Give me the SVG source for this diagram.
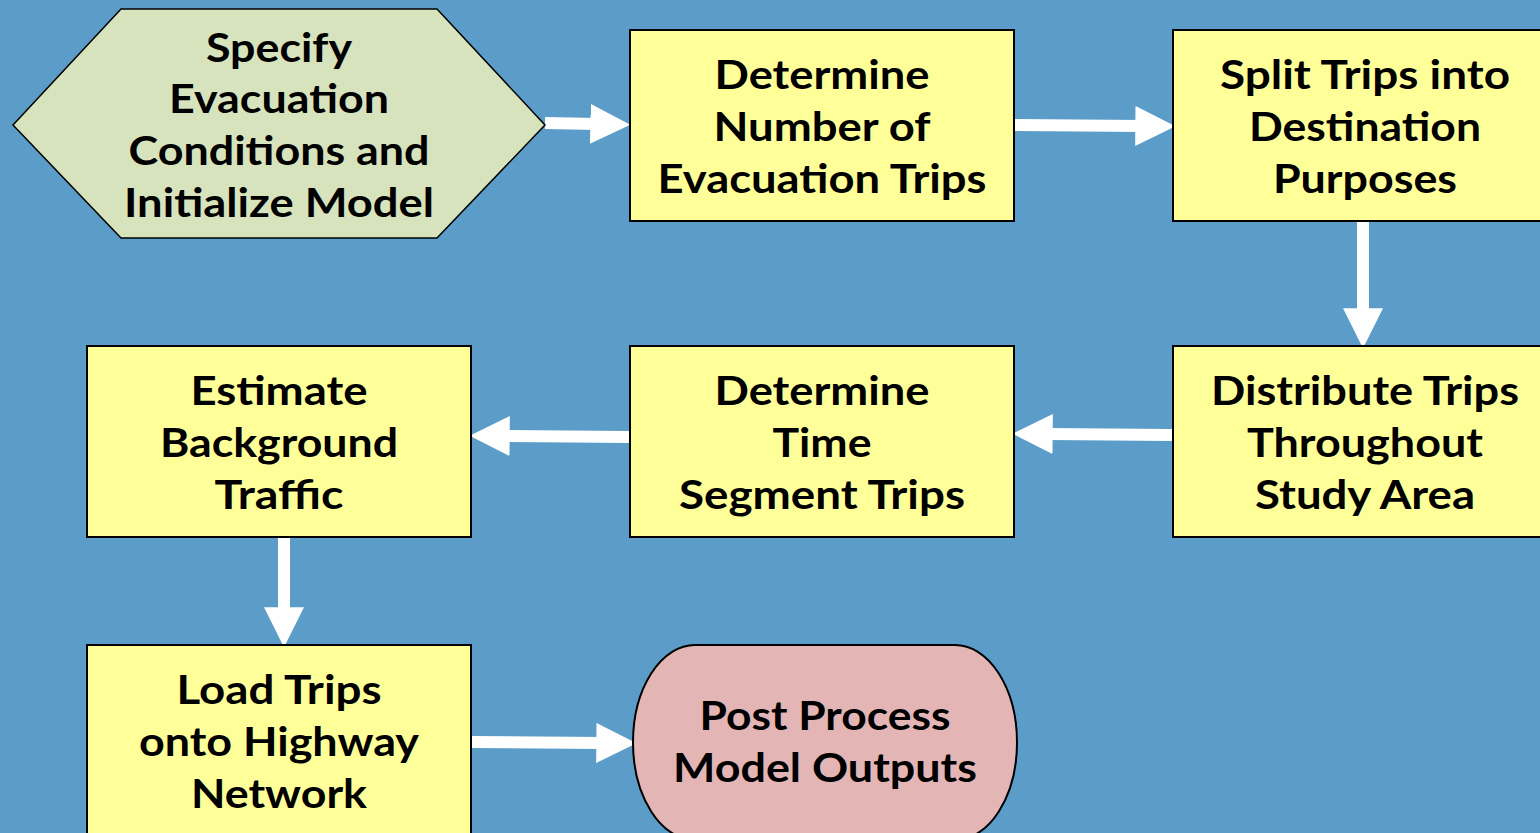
<svg xmlns="http://www.w3.org/2000/svg" width="1540" height="833" viewBox="0 0 1540 833">
<defs>
<style>
.bg{fill:#5B9DC8}
.box{fill:#FFFF99;stroke:#000;stroke-width:2}
.hex{fill:#D7E3BC;stroke:#000;stroke-width:1.5}
.term{fill:#E4B5B5;stroke:#000;stroke-width:2}
.t{font-family:Lato,"Open Sans","Liberation Sans",sans-serif;font-weight:bold;font-size:40px;fill:#000;text-anchor:middle}
.c{stroke:#fff;stroke-width:12;fill:none;marker-end:url(#ah)}
</style>
<marker id="ah" markerUnits="userSpaceOnUse" markerWidth="40" markerHeight="40" viewBox="0 0 36 36" refX="6" refY="18" orient="auto">
<path d="M0,0 L36,18 L0,36 Z" fill="#fff"/>
</marker>
</defs>
<rect class="bg" x="0" y="0" width="1540" height="833"/>
<g id="connectors">
<line class="c" x1="545" y1="123" x2="597" y2="124"/>
<line class="c" x1="1015" y1="125" x2="1142" y2="126"/>
<line class="c" x1="1363" y1="222" x2="1363" y2="315"/>
<line class="c" x1="1172" y1="435" x2="1046" y2="434"/>
<line class="c" x1="629" y1="437" x2="503" y2="436"/>
<line class="c" x1="284" y1="538" x2="284" y2="614"/>
<line class="c" x1="472" y1="742" x2="603" y2="743"/>
</g>
<g id="n1">
<polygon class="hex" points="13,125 121,9 437,9 545,125 437,238 121,238"/>
<text class="t" x="279" y="62" textLength="146" lengthAdjust="spacingAndGlyphs">Specify</text>
<text class="t" x="279" y="113" textLength="220" lengthAdjust="spacingAndGlyphs">Evacuation</text>
<text class="t" x="279" y="165" textLength="301" lengthAdjust="spacingAndGlyphs">Conditions and</text>
<text class="t" x="279" y="217" textLength="310" lengthAdjust="spacingAndGlyphs">Initialize Model</text>
</g>
<g id="n2">
<rect class="box" x="630" y="30" width="384" height="191"/>
<text class="t" x="822" y="89" textLength="215" lengthAdjust="spacingAndGlyphs">Determine</text>
<text class="t" x="822" y="141" textLength="217" lengthAdjust="spacingAndGlyphs">Number of</text>
<text class="t" x="822" y="193" textLength="329" lengthAdjust="spacingAndGlyphs">Evacuation Trips</text>
</g>
<g id="n3">
<rect class="box" x="1173" y="30" width="380" height="191"/>
<text class="t" x="1365" y="89" textLength="290" lengthAdjust="spacingAndGlyphs">Split Trips into</text>
<text class="t" x="1365" y="141" textLength="232" lengthAdjust="spacingAndGlyphs">Destination</text>
<text class="t" x="1365" y="193" textLength="184" lengthAdjust="spacingAndGlyphs">Purposes</text>
</g>
<g id="n4">
<rect class="box" x="1173" y="346" width="380" height="191"/>
<text class="t" x="1365" y="405" textLength="308" lengthAdjust="spacingAndGlyphs">Distribute Trips</text>
<text class="t" x="1365" y="457" textLength="236" lengthAdjust="spacingAndGlyphs">Throughout</text>
<text class="t" x="1365" y="509" textLength="220" lengthAdjust="spacingAndGlyphs">Study Area</text>
</g>
<g id="n5">
<rect class="box" x="630" y="346" width="384" height="191"/>
<text class="t" x="822" y="405" textLength="215" lengthAdjust="spacingAndGlyphs">Determine</text>
<text class="t" x="822" y="457" textLength="99" lengthAdjust="spacingAndGlyphs">Time</text>
<text class="t" x="822" y="509" textLength="286" lengthAdjust="spacingAndGlyphs">Segment Trips</text>
</g>
<g id="n6">
<rect class="box" x="87" y="346" width="384" height="191"/>
<text class="t" x="279" y="405" textLength="177" lengthAdjust="spacingAndGlyphs">Estimate</text>
<text class="t" x="279" y="457" textLength="238" lengthAdjust="spacingAndGlyphs">Background</text>
<text class="t" x="279" y="509" textLength="129" lengthAdjust="spacingAndGlyphs">Traffic</text>
</g>
<g id="n7">
<rect class="box" x="87" y="645" width="384" height="200"/>
<text class="t" x="279" y="704" textLength="205" lengthAdjust="spacingAndGlyphs">Load Trips</text>
<text class="t" x="279" y="756" textLength="280" lengthAdjust="spacingAndGlyphs">onto Highway</text>
<text class="t" x="279" y="808" textLength="176" lengthAdjust="spacingAndGlyphs">Network</text>
</g>
<g id="n8">
<rect class="term" x="633" y="645" width="384" height="195" rx="62" ry="100"/>
<text class="t" x="825" y="730" textLength="251" lengthAdjust="spacingAndGlyphs">Post Process</text>
<text class="t" x="825" y="782" textLength="304" lengthAdjust="spacingAndGlyphs">Model Outputs</text>
</g>
</svg>
